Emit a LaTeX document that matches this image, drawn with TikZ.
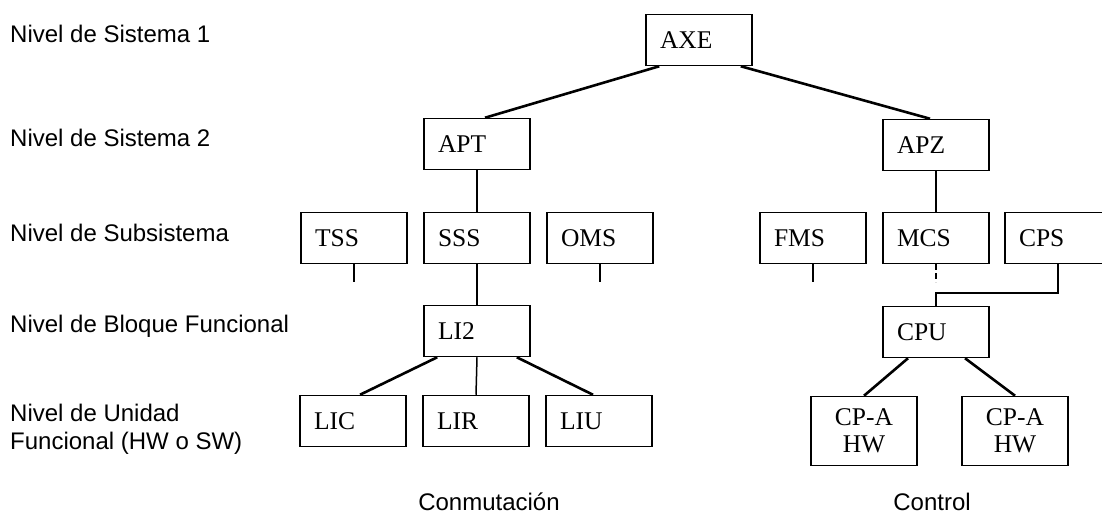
\documentclass[tikz,border=0pt]{standalone}
\usepackage{fontspec}
\setmainfont{Liberation Sans}
\newfontfamily\boxfont{Liberation Serif}
\tikzset{blk/.style = {draw, line width = 1.5pt, minimum width = 106pt, minimum height = 51pt,
                       text width = 78pt, inner xsep = 14pt, inner ysep = 0, align = left,
                       font = \boxfont\fontsize{25.5}{27}\selectfont}}
\tikzset{unit/.style = {blk, align = center, minimum height = 69pt}}
\tikzset{lvl/.style = {anchor = west, align = left, inner sep = 0,
                       font = \fontsize{24}{28}\selectfont}}
\tikzset{lnk/.style = {line width = 1.5pt}}
\tikzset{thk/.style = {line width = 2.6pt}}

\begin{document}
\begin{tikzpicture}[x=1pt, y=-1pt]
      \useasboundingbox (0, 0) rectangle (1102, 518);

      % levels
      \node (l1) at (10, 34) [lvl] {Nivel de Sistema 1};
      \node (l2) at (10, 138) [lvl] {Nivel de Sistema 2};
      \node (l3) at (10, 233) [lvl] {Nivel de Subsistema};
      \node (l4) at (10, 326) [lvl] {Nivel de Bloque Funcional};
      \node (l5) at (10, 429) [lvl] {Nivel de Unidad\\Funcional (HW o SW)};

      % systems
      \node (axe) at (699, 40) [blk] {AXE};
      \node (apt) at (477, 144) [blk] {APT};
      \node (apz) at (936, 145) [blk] {APZ};

      % subsystems
      \node (tss) at (354, 238) [blk] {TSS};
      \node (sss) at (477, 238) [blk] {SSS};
      \node (oms) at (600, 238) [blk] {OMS};
      \node (fms) at (813, 238) [blk] {FMS};
      \node (mcs) at (936, 238) [blk] {MCS};
      \node (cps) at (1058, 238) [blk] {CPS};

      % function blocks
      \node (li2) at (477, 331) [blk] {LI2};
      \node (cpu) at (936, 332) [blk] {CPU};

      % function units
      \node (lic) at (353, 421) [blk] {LIC};
      \node (lir) at (476, 421) [blk] {LIR};
      \node (liu) at (599, 421) [blk] {LIU};
      \node (cpa1) at (864, 431) [unit] {CP-A\\HW};
      \node (cpa2) at (1015, 431) [unit] {CP-A\\HW};

      \node (sw) at (489, 502) [lvl, anchor = center] {Conmutación};
      \node (ctl) at (932, 502) [lvl, anchor = center] {Control};

      \coordinate (tssend) at ([yshift=-18pt]tss.south);
      \coordinate (omsend) at ([yshift=-18pt]oms.south);
      \coordinate (fmsend) at ([yshift=-18pt]fms.south);
      \coordinate (mcsend) at ([yshift=-18pt]mcs.south);

      \draw [thk] ([xshift=14pt]axe.south west) -- ([xshift=8pt]apt.north);
      \draw [thk] ([xshift=-12pt]axe.south east) -- ([xshift=-6pt]apz.north);
      \draw [lnk] (apt.south) -- (sss.north);
      \draw [lnk] (apz.south) -- (mcs.north);

      \draw [lnk] (tss.south) -- (tssend);
      \draw [lnk] (oms.south) -- (omsend);
      \draw [lnk] (fms.south) -- (fmsend);
      \draw [lnk, dash pattern = on 6pt off 3pt] (mcs.south) -- (mcsend);
      \draw [lnk] (sss.south) -- (li2.north);
      \draw [lnk] (cps.south) -- ++(0, 29) -| (cpu.north);

      \draw [thk] ([xshift=14pt]li2.south west) -- ([xshift=7pt]lic.north);
      \draw [lnk] (li2.south) -- (lir.north);
      \draw [thk] ([xshift=-14pt]li2.south east) -- ([xshift=-6pt]liu.north);
      \draw [thk] ([xshift=-28pt]cpu.south) -- (cpa1.north);
      \draw [thk] ([xshift=29pt]cpu.south) -- (cpa2.north);
    \end{tikzpicture}
\end{document}
